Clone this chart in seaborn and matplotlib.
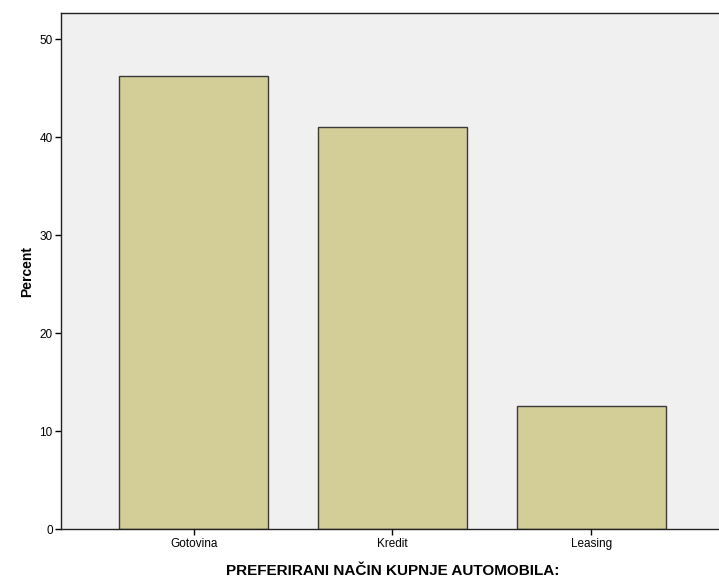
import pandas as pd
import seaborn as sns
import matplotlib.pyplot as plt

categories = ['Gotovina', 'Kredit', 'Leasing']
percent = [46.3, 41.1, 12.6]

df = pd.DataFrame({'Nacin': categories, 'Percent': percent})

sns.set_style('ticks')
plt.rcParams['font.family'] = ['Liberation Sans', 'DejaVu Sans']
plt.rcParams['text.color'] = 'black'
plt.rcParams['axes.labelcolor'] = 'black'
plt.rcParams['xtick.color'] = 'black'
plt.rcParams['ytick.color'] = 'black'

fig = plt.figure(figsize=(7.19, 5.81), dpi=100)
# the plot frame runs past the right edge of the picture, as in the original
ax = fig.add_axes([0.0848, 0.089, 0.922, 0.8886])
ax.set_facecolor('#F0F0F0')

sns.barplot(data=df, x='Nacin', y='Percent', color='#D3CE97', saturation=1,
            width=0.75, edgecolor='#3a3a3a', linewidth=1, ax=ax)

ax.set_xlim(-0.667, 2.667)
ax.set_ylim(0, 52.7)
ax.set_yticks([0, 10, 20, 30, 40, 50])
ax.tick_params(axis='both', labelsize=8.5, length=4, width=1, pad=2)
ax.set_ylabel('Percent', fontsize=10, fontweight='bold')
ax.set_xlabel('PREFERIRANI NAČIN KUPNJE AUTOMOBILA:', fontsize=11, fontweight='bold', labelpad=10)
for s in ax.spines.values():
    s.set_color('#222222')
    s.set_linewidth(1)
ax.spines['right'].set_visible(False)

fig.savefig('out.png', dpi=100)
